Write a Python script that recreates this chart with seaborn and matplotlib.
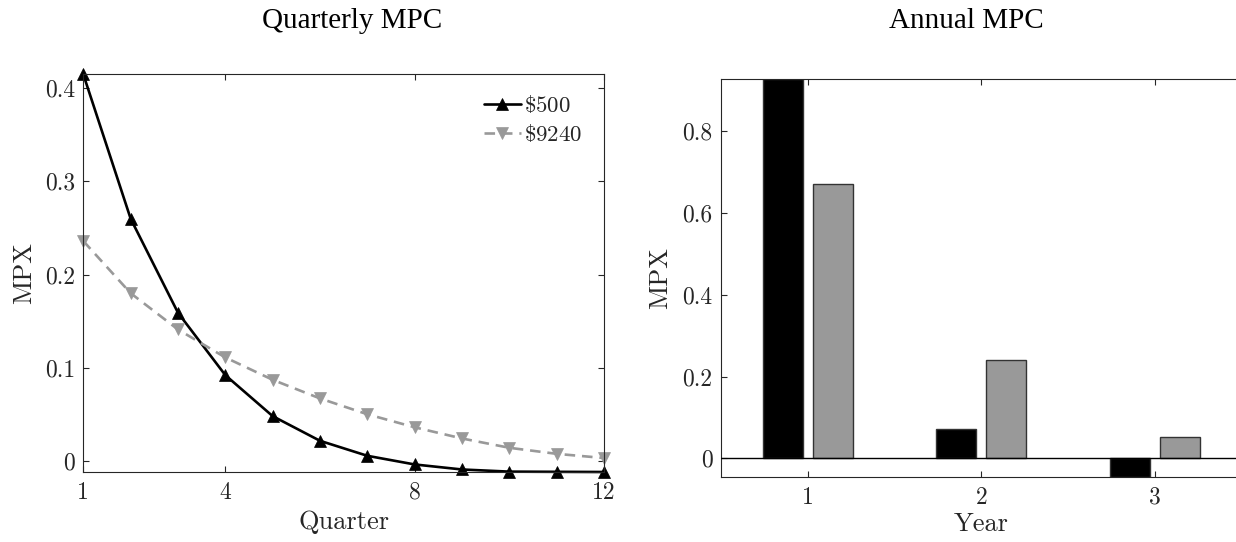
import numpy as np
import pandas as pd
import matplotlib
matplotlib.use("Agg")
import matplotlib.pyplot as plt
from matplotlib.ticker import FuncFormatter
import seaborn as sns

# Quarterly marginal propensity to spend out of a transfer
quarters = [1, 2, 3, 4, 5, 6, 7, 8, 9, 10, 11, 12]
mpx_500 = [0.415, 0.260, 0.159, 0.092, 0.048, 0.0215, 0.0054, -0.0039,
           -0.0093, -0.0116, -0.0118, -0.0120]
mpx_9240 = [0.236, 0.180, 0.141, 0.111, 0.087, 0.067, 0.050, 0.036,
            0.024, 0.014, 0.0075, 0.003]

# Annual totals
years = [1, 2, 3]
annual_500 = [0.926, 0.071, -0.0447]
annual_9240 = [0.670, 0.241, 0.052]
series_labels = [r"$\$500$", r"$\$9240$"]

xticks_q = [1, 4, 8, 12]
yticks_q = [0, 0.1, 0.2, 0.3, 0.4]
yticks_a = [0, 0.2, 0.4, 0.6, 0.8]

sns.set_style("ticks")
plt.rcParams.update({
    "font.family": ["cmr10", "DejaVu Serif"],
    "mathtext.fontset": "cm",
    "axes.formatter.use_mathtext": True,
    "axes.unicode_minus": False,
    "xtick.direction": "in",
    "ytick.direction": "in",
    "xtick.top": True,
    "ytick.right": True,
    "xtick.major.size": 4,
    "ytick.major.size": 4,
    "xtick.major.width": 0.8,
    "ytick.major.width": 0.8,
    "xtick.major.pad": 7,
    "ytick.major.pad": 6,
    "xtick.color": "#262626",
    "ytick.color": "#262626",
    "axes.edgecolor": "#262626",
    "axes.linewidth": 0.8,
    "xtick.labelsize": 17,
    "ytick.labelsize": 17,
})

W, H = 1236, 542
fig = plt.figure(figsize=(W / 100, H / 100), dpi=100)

def frac(x0, y_top, x1, y_bot):
    return [x0 / W, 1 - y_bot / H, (x1 - x0) / W, (y_bot - y_top) / H]

ax1 = fig.add_axes(frac(83.3, 74.3, 604, 472))
ax2 = fig.add_axes(frac(721, 79.3, 1241.7, 476.7))

fmt = FuncFormatter(lambda v, p: f"{v:g}")

# ---- Quarterly panel
sns.lineplot(x=quarters, y=mpx_500, ax=ax1, color="black", lw=1.9,
             marker="^", markersize=9, markeredgecolor="black",
             markeredgewidth=0.5, label=series_labels[0])
sns.lineplot(x=quarters, y=mpx_9240, ax=ax1, color="#999999", lw=1.9,
             linestyle=(0, (4, 2.6)), marker="v", markersize=9,
             markeredgecolor="#999999", markeredgewidth=0.5,
             label=series_labels[1])
for ln in ax1.get_lines():
    ln.set_clip_on(False)
ax1.set_xlim(1, 12)
ax1.set_ylim(min(mpx_500), max(mpx_500))
ax1.set_xticks(xticks_q)
ax1.set_yticks(yticks_q)
ax1.xaxis.set_major_formatter(fmt)
ax1.yaxis.set_major_formatter(fmt)
ax1.set_xlabel("Quarter", fontsize=19, color="#262626")
ax1.set_ylabel("MPX", fontsize=19, color="#262626")
ax1.xaxis.set_label_coords(0.5, -0.095)
ax1.yaxis.set_label_coords(-0.09, 0.5)
leg = ax1.legend(loc="upper right", bbox_to_anchor=(0.985, 0.985),
                 frameon=False, fontsize=16.5, handlelength=1.6,
                 handletextpad=0.15, labelspacing=0.3, borderaxespad=0.2)
for t in leg.get_texts():
    t.set_color("#262626")

# ---- Annual panel
annual = pd.DataFrame({
    "year": years * 2,
    "mpx": annual_500 + annual_9240,
    "transfer": [series_labels[0]] * 3 + [series_labels[1]] * 3,
})
sns.barplot(data=annual, x="year", y="mpx", hue="transfer", ax=ax2,
            native_scale=True, width=0.576, gap=0.2,
            palette=["black", "#999999"], edgecolor="#333333",
            linewidth=1, errorbar=None, legend=False)
ax2.axhline(0, color="black", lw=1, zorder=3)
ax2.set_xlim(0.5, 3.5)
ax2.set_ylim(min(annual_500), max(annual_500))
ax2.set_xticks(years)
ax2.set_yticks(yticks_a)
ax2.xaxis.set_major_formatter(fmt)
ax2.yaxis.set_major_formatter(fmt)
ax2.set_xlabel("Year", fontsize=19, color="#262626")
ax2.set_ylabel("MPX", fontsize=19, color="#262626")
ax2.xaxis.set_label_coords(0.5, -0.09)
ax2.yaxis.set_label_coords(-0.093, 0.5)

# ---- Panel titles
fig.text(352 / W, 1 - 27.5 / H, "Quarterly MPC", ha="center", va="baseline",
         fontsize=21, family="Liberation Serif", color="black")
fig.text(966 / W, 1 - 27.5 / H, "Annual MPC", ha="center", va="baseline",
         fontsize=21, family="Liberation Serif", color="black")

fig.savefig("out.png", dpi=100)
